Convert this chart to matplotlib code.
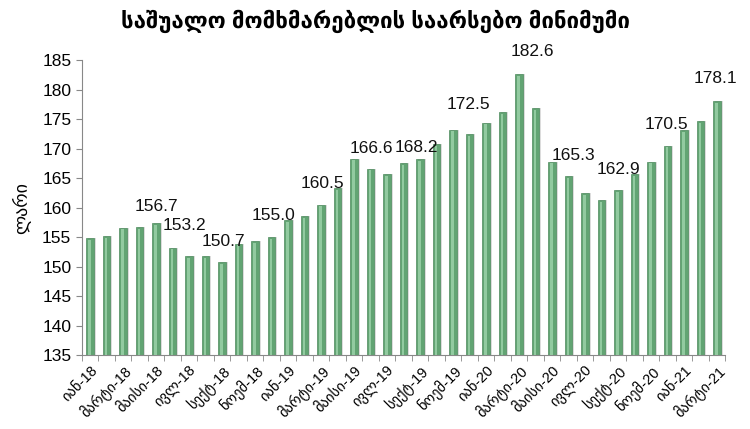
import matplotlib
matplotlib.use('Agg')
import matplotlib.pyplot as plt
import numpy as np

plt.rcParams['font.family'] = ['Liberation Sans', 'DejaVu Sans']

# monthly labels Jan-18 .. Mar-21
months = ['იან', 'თებ', 'მარტი', 'აპრ', 'მაისი', 'ივნ',
          'ივლ', 'აგვ', 'სექტ', 'ოქტ', 'ნოემ', 'დეკ']
years = ['18', '19', '20', '21']
categories = [m + '-' + y for y in years for m in months][:39]

values = [154.8, 155.1, 156.6, 156.7, 157.4, 153.2, 151.8, 151.7, 150.7,
          153.9, 154.3, 155.0, 157.9, 158.5, 160.5, 163.3, 168.3, 166.6,
          165.7, 167.5, 168.2, 170.7, 173.2, 172.5, 174.4, 176.2, 182.6,
          176.8, 167.8, 165.3, 162.4, 161.3, 162.9, 165.7, 167.8, 170.5,
          173.1, 174.7, 178.1]

# value labels shown on the chart and where they sit
label_text = ['156.7', '153.2', '150.7', '155.0', '160.5', '166.6', '168.2',
              '172.5', '182.6', '165.3', '162.9', '170.5', '178.1']
label_x = [4.05, 5.75, 8.1, 11.1, 14.1, 17.05, 19.8, 22.95, 26.8, 29.3,
           32.05, 34.95, 37.9]
label_y = [160.1, 157.0, 154.3, 158.6, 164.1, 170.0, 170.1, 177.4, 186.4,
           168.9, 166.5, 174.1, 181.9]

fig = plt.figure(figsize=(7.5, 4.29), dpi=100)
ax = fig.add_axes([0.109, 0.1725, 0.858, 0.6875])

x = np.arange(len(values))
base = 135
ax.bar(x + 0.12, np.array(values) - base, width=0.44, bottom=base,
       color='#dcdcdc', zorder=1)
ax.bar(x, np.array(values) - base, width=0.44, bottom=base,
       color='#62a473', edgecolor='#4d8a5d', linewidth=0.5, zorder=2)
ax.bar(x - 0.03, np.array(values) - base - 0.3, width=0.16, bottom=base,
       color='#92caa0', linewidth=0, zorder=3)

for t, lx, ly in zip(label_text, label_x, label_y):
    ax.text(lx, ly, t, ha='center', va='center', fontsize=12.5, color='#111111')

ax.set_ylim(135, 185)
ax.set_yticks(np.arange(135, 186, 5))
ax.set_xlim(-0.5, len(values) - 0.5)

ax.set_xticks(x[::2])
ax.set_xticklabels(categories[::2], rotation=45, ha='right',
                   rotation_mode='anchor', fontsize=10.5)
ax.set_xticks(np.arange(-0.5, len(values), 1), minor=True)
ax.tick_params(axis='x', which='major', length=0, pad=6)
ax.tick_params(axis='x', which='minor', length=4, color='#888888')
ax.tick_params(axis='y', length=4, color='#888888', labelsize=12.5)

for s in ['top', 'right']:
    ax.spines[s].set_visible(False)
for s in ['left', 'bottom']:
    ax.spines[s].set_color('#888888')

ax.set_ylabel('ლარი', fontsize=13, labelpad=8)
fig.text(0.5, 0.95, 'საშუალო მომხმარებლის საარსებო მინიმუმი',
         ha='center', va='center', fontsize=16, fontweight='bold')

fig.savefig('out.png', dpi=100)
